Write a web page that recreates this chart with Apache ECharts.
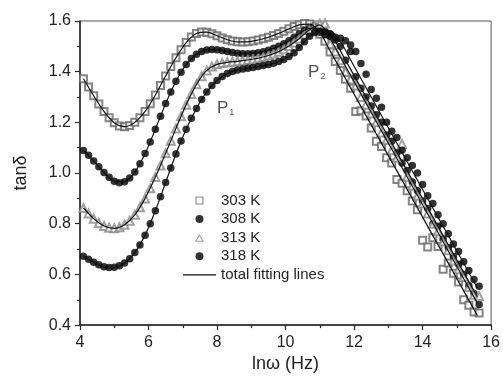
<!DOCTYPE html>
<html><head><meta charset="utf-8">
<script src="https://cdn.jsdelivr.net/npm/echarts@6/dist/echarts.min.js"></script>
<style>html,body{margin:0;padding:0;background:#fff}#c{width:503px;height:378px}</style>
</head><body><div id="c"></div>
<script>
// ln(omega) positions of measured points
const lnW = [4.10,4.25,4.40,4.55,4.70,4.85,5.00,5.15,5.30,5.45,
5.60,5.75,5.90,6.05,6.20,6.35,6.50,6.65,6.80,6.95,
7.10,7.25,7.40,7.55,7.70,7.85,8.00,8.15,8.30,8.45,
8.60,8.75,8.90,9.05,9.20,9.35,9.50,9.65,9.80,9.95,
10.10,10.25,10.40,10.55,10.70,10.85,11.00,11.15,11.30,11.45,
11.60,11.75,11.90,12.05,12.20,12.35,12.50,12.65,12.80,12.95,
13.10,13.25,13.40,13.55,13.70,13.85,14.00,14.15,14.30,14.45,
14.60,14.75,14.90,15.05,15.20,15.35,15.50,15.65];
const tan303 = [1.372,1.340,1.305,1.272,1.243,1.218,1.198,1.186,1.183,1.188,
1.200,1.218,1.243,1.273,1.308,1.345,1.383,1.420,1.455,1.487,
1.515,1.537,1.551,1.557,1.556,1.550,1.542,1.533,1.526,1.521,
1.518,1.517,1.518,1.521,1.525,1.530,1.536,1.543,1.551,1.560,
1.569,1.578,1.585,1.590,1.588,1.576,1.548,1.520,1.478,1.440,
1.405,1.370,1.335,1.243,1.246,1.225,1.178,1.125,1.105,1.060,
1.040,0.975,0.960,0.930,0.890,0.855,0.735,0.708,0.745,0.710,
0.620,0.645,0.605,0.570,0.500,0.478,0.452,0.448];
const tan308 = [1.089,1.070,1.048,1.025,1.002,0.983,0.968,0.962,0.966,0.980,
1.004,1.037,1.077,1.123,1.173,1.224,1.274,1.320,1.362,1.398,
1.428,1.452,1.469,1.480,1.486,1.488,1.487,1.484,1.480,1.476,
1.473,1.471,1.471,1.472,1.475,1.479,1.485,1.492,1.500,1.510,
1.522,1.536,1.550,1.562,1.571,1.575,1.570,1.560,1.550,1.525,
1.500,1.445,1.480,1.380,1.335,1.300,1.265,1.230,1.200,1.150,
1.125,1.080,1.040,1.010,0.965,0.930,0.890,0.860,0.800,0.790,
0.740,0.705,0.670,0.640,0.600,0.555,0.525,0.481];
const tan313 = [0.862,0.840,0.820,0.803,0.791,0.784,0.782,0.786,0.796,0.812,
0.835,0.865,0.900,0.940,0.984,1.030,1.078,1.127,1.176,1.224,
1.270,1.312,1.350,1.382,1.405,1.420,1.429,1.434,1.437,1.439,
1.441,1.443,1.446,1.449,1.453,1.458,1.464,1.471,1.479,1.489,
1.501,1.515,1.531,1.548,1.565,1.580,1.589,1.590,1.510,1.480,
1.445,1.400,1.370,1.345,1.300,1.270,1.235,1.200,1.160,1.130,
1.090,1.060,1.115,0.985,0.950,0.910,0.880,0.840,0.800,0.770,
0.730,0.695,0.655,0.620,0.590,0.550,0.520,0.514];
const tan318 = [0.672,0.660,0.648,0.638,0.630,0.627,0.628,0.634,0.645,0.662,
0.686,0.716,0.755,0.800,0.851,0.906,0.963,1.020,1.075,1.126,
1.173,1.216,1.255,1.290,1.320,1.345,1.365,1.381,1.393,1.401,
1.407,1.411,1.414,1.417,1.420,1.424,1.428,1.433,1.440,1.448,
1.460,1.475,1.495,1.518,1.540,1.555,1.556,1.548,1.540,1.536,
1.532,1.522,1.505,1.480,1.432,1.390,1.330,1.295,1.260,1.200,
1.165,1.140,1.090,1.060,1.030,1.000,0.955,0.910,0.880,0.835,
0.800,0.760,0.720,0.690,0.650,0.615,0.580,0.553];
// total fitting lines
const fitX = [4.1,4.4,4.7,5.0,5.3,5.6,5.9,6.2,6.5,6.8,
7.1,7.4,7.7,8.0,8.3,8.6,8.9,9.2,9.5,9.8,
10.1,10.4,10.7,11.0,11.3,11.6,11.9,12.2,12.5,12.8,
13.1,13.4,13.7,14.0,14.3,14.6,14.9,15.2,15.5,15.6];
const fit303 = [1.372,1.305,1.243,1.198,1.183,1.200,1.243,1.308,1.383,1.455,
1.515,1.551,1.556,1.542,1.526,1.518,1.518,1.525,1.536,1.551,
1.569,1.585,1.588,1.555,1.482,1.409,1.336,1.263,1.190,1.118,
1.045,0.972,0.899,0.826,0.753,0.681,0.608,0.535,0.462,0.438];
const fit308 = [1.089,1.048,1.002,0.968,0.966,1.004,1.077,1.173,1.274,1.362,
1.428,1.469,1.486,1.487,1.480,1.473,1.471,1.475,1.485,1.500,
1.522,1.550,1.571,1.570,1.555,1.482,1.409,1.336,1.263,1.190,
1.118,1.045,0.972,0.899,0.826,0.753,0.681,0.608,0.535,0.511];
const fit313 = [0.862,0.820,0.791,0.782,0.796,0.835,0.900,0.984,1.078,1.176,
1.270,1.350,1.405,1.429,1.437,1.441,1.446,1.453,1.464,1.479,
1.501,1.531,1.565,1.585,1.531,1.458,1.385,1.312,1.239,1.166,
1.094,1.021,0.948,0.875,0.802,0.729,0.656,0.583,0.511,0.486];
const fit318 = [0.672,0.648,0.630,0.628,0.645,0.686,0.755,0.851,0.963,1.075,
1.173,1.255,1.320,1.365,1.393,1.407,1.414,1.420,1.428,1.440,
1.460,1.495,1.540,1.558,1.560,1.519,1.446,1.373,1.300,1.227,
1.154,1.081,1.008,0.935,0.862,0.790,0.717,0.644,0.571,0.547];
const xTicks = [4,6,8,10,12,14,16];
const yTicks = [0.4,0.6,0.8,1.0,1.2,1.4,1.6];
const peakNames = ['1','2'];
const peakX = [8.25,10.91];
const peakY = [1.257,1.399];

const FONT = 'Liberation Sans, Arial, sans-serif';
const pair = (xs, ys) => xs.map((x, i) => [x, ys[i]]);
const chart = echarts.init(document.getElementById('c'), null, {renderer:'canvas'});

const scatter = (name, ys, symbol, size, color) => ({
  name, type:'scatter', data: pair(lnW, ys), symbol, symbolSize: size,
  itemStyle:{color, borderWidth:1}, z:2
});
const fit = (ys) => ({
  name:'total fitting lines', type:'line', data: pair(fitX, ys), symbol:'none', showSymbol:false,
  smooth:0.3, itemStyle:{color:'#111'}, lineStyle:{color:'#111', width:1.2}, z:3
});

chart.setOption({
  animation:false,
  backgroundColor:'#fff',
  grid:{left:80, right:8, top:21, bottom:52, show:true, borderColor:'#555', borderWidth:1, backgroundColor:'transparent'},
  xAxis:{type:'value', min:xTicks[0], max:xTicks[xTicks.length-1], interval:2,
    name:'lnω (Hz)', nameLocation:'middle', nameGap:26,
    nameTextStyle:{fontFamily:FONT, fontSize:18, color:'#222'},
    axisLine:{lineStyle:{color:'#222', width:1.5}},
    axisTick:{inside:false, length:5, lineStyle:{color:'#222', width:1.2}},
    minorTick:{show:true, splitNumber:2, length:3, lineStyle:{color:'#222', width:1.2}},
    splitLine:{show:false},
    axisLabel:{fontFamily:FONT, fontSize:16, color:'#222', margin:9}},
  yAxis:{type:'value', min:yTicks[0], max:yTicks[yTicks.length-1], interval:0.2,
    name:'tanδ', nameLocation:'middle', nameGap:50, nameRotate:90,
    nameTextStyle:{fontFamily:FONT, fontSize:18, color:'#222'},
    axisLine:{show:true, lineStyle:{color:'#222', width:1.5}},
    axisTick:{show:true, inside:false, length:5, lineStyle:{color:'#222', width:1.2}},
    minorTick:{show:true, splitNumber:2, length:3, lineStyle:{color:'#222', width:1.2}},
    splitLine:{show:false},
    axisLabel:{fontFamily:FONT, fontSize:16, color:'#222', margin:9, formatter:v=>v.toFixed(1)}},
  legend:{left:183, top:193, padding:0, orient:'vertical', itemWidth:33, itemHeight:8, itemGap:3.6,
    textStyle:{fontFamily:FONT, fontSize:15, color:'#222', lineHeight:15},
    data:[
      {name:'303 K', icon:'path://M0,0H8V8H0Z M1.1,1.1V6.9H6.9V1.1Z', itemStyle:{color:'#666'}},
      {name:'308 K', icon:'circle'},
      {name:'313 K', icon:'path://M4,0L8,7L0,7Z M4,2.1L1.7,6.1L6.3,6.1Z', itemStyle:{color:'#888'}},
      {name:'318 K', icon:'circle'},
      {name:'total fitting lines', icon:'path://M0,0H33V1.3H0Z', itemStyle:{color:'#111'}}
    ]},
  series:[
    scatter('303 K', tan303, 'emptyRect', 7, '#666'),
    scatter('308 K', tan308, 'circle', 7.5, '#000'),
    scatter('313 K', tan313, 'emptyTriangle', 8, '#888'),
    scatter('318 K', tan318, 'circle', 7.5, '#000'),
    fit(fit303), fit(fit308), fit(fit313), fit(fit318),
    {name:'peaks', type:'scatter', symbolSize:0, z:5,
      data: peakNames.map((n,i)=>({value:[peakX[i], peakY[i]], name:n})),
      label:{show:true, position:'inside', fontFamily:FONT,
        formatter:p=>'{p|P}{s|'+p.name+'}',
        rich:{p:{fontSize:17, color:'#222', fontFamily:FONT},
              s:{fontSize:9, color:'#222', fontFamily:FONT, padding:[10,0,0,1]}}}}
  ]
});
</script></body></html>
